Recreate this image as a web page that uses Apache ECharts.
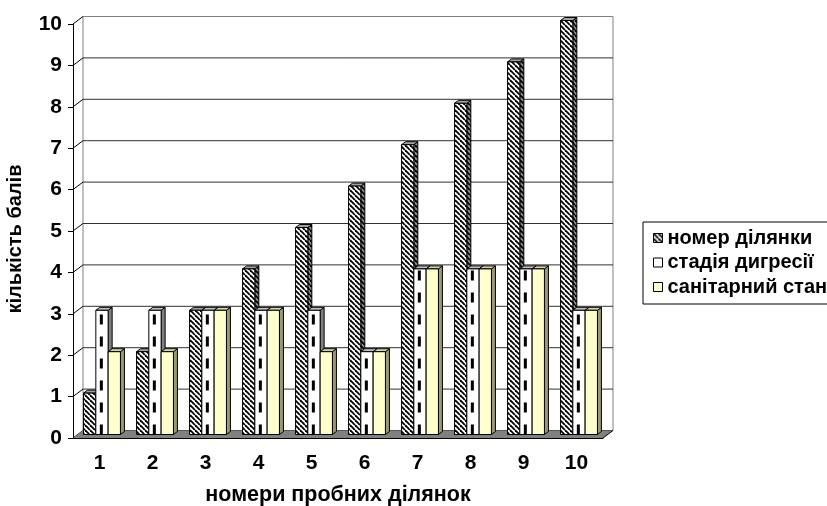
<!DOCTYPE html>
<html>
<head>
<meta charset="utf-8">
<script src="https://cdn.jsdelivr.net/npm/echarts@6/dist/echarts.min.js"></script>
<style>
    html, body {margin: 0; padding: 0; background: #fff;}
    #chart {width: 827px; height: 506px;}
</style>
</head>
<body>
<div id="chart"></div>
<script>
const categories = ['1', '2', '3', '4', '5', '6', '7', '8', '9', '10'];
const plotNumber = [1, 2, 3, 4, 5, 6, 7, 8, 9, 10];
const digressionStage = [3, 3, 3, 3, 3, 2, 4, 4, 4, 3];
const sanitaryState = [2, 2, 3, 3, 2, 2, 4, 4, 4, 3];
const yTicks = [0, 1, 2, 3, 4, 5, 6, 7, 8, 9, 10];

const FONT = "'Liberation Sans', Arial, sans-serif";
// depth of the back wall and of the bars (pseudo 3d)
const DX = 10, DY = -7.5;
const BY = -3.5;
const SX = 4, SY = -3;

function hatch(bg, fg, size) {
    let c = document.createElement('canvas');
    c.width = c.height = size;
    let g = c.getContext('2d');
    g.fillStyle = bg;
    g.fillRect(0, 0, size, size);
    g.strokeStyle = fg;
    g.lineWidth = 1.8;
    [-size, 0, size].forEach(o => {
        g.beginPath();
        g.moveTo(o, 0);
        g.lineTo(o + size, size);
        g.stroke();
    });
    return {image: c, repeat: 'repeat'};
}

const hatchFront = hatch('#ffffff', '#000000', 5);
const hatchSide = hatch('#909090', '#000000', 5);

const looks = [
    {front: hatchFront, side: hatchSide, top: '#a0a0a0', dash: false},
    {front: '#ffffff', side: '#808080', top: '#c0c0c0', dash: true},
    {front: '#ffffcc', side: '#9a9a70', top: '#d6d6a8', dash: false}
];

function barRenderer(k) {
    return function (params, api) {
        let ci = api.value(0), v = api.value(1);
        let p0 = api.coord([ci, 0]);
        let p1 = api.coord([ci, v]);
        let cw = api.size([1, 0])[0];
        let bw = cw * 0.232;
        let x = p0[0] - 1.5 * bw + k * bw + cw * 0.047;
        let yb = p0[1] + BY, yt = p1[1] + BY;
        let look = looks[k];
        let stroke = {stroke: '#000', lineWidth: 1};
        let children = [
            {
                type: 'polygon',
                shape: {points: [[x + bw, yt], [x + bw + SX, yt + SY], [x + bw + SX, yb + SY], [x + bw, yb]]},
                style: Object.assign({fill: look.side}, stroke)
            },
            {
                type: 'polygon',
                shape: {points: [[x, yt], [x + SX, yt + SY], [x + bw + SX, yt + SY], [x + bw, yt]]},
                style: Object.assign({fill: look.top}, stroke)
            },
            {
                type: 'rect',
                shape: {x: x, y: yt, width: bw, height: yb - yt},
                style: Object.assign({fill: look.front}, stroke)
            }
        ];
        if (look.dash) {
            children.push({
                type: 'line',
                shape: {x1: x + 5.5, y1: yb, x2: x + 5.5, y2: yt + 1},
                style: {stroke: '#000', lineWidth: 3, lineDash: [10, 12]}
            });
        }
        return {type: 'group', children: children};
    };
}

function frameRenderer(params, api) {
    let cs = params.coordSys;
    let v = api.value(1);
    let y = api.coord([0, v])[1];
    let left = cs.x, right = cs.x + cs.width;
    let children = [
        {
            type: 'line',
            shape: {x1: left + DX, y1: y + DY, x2: right + DX, y2: y + DY},
            style: {stroke: v === yTicks[yTicks.length - 1] ? '#808080' : '#303030', lineWidth: 1}
        },
        {
            type: 'line',
            shape: {x1: left, y1: y, x2: left + DX, y2: y + DY},
            style: {stroke: '#000', lineWidth: 1}
        }
    ];
    if (v === 0) {
        let yTop = api.coord([0, yTicks[yTicks.length - 1]])[1];
        children.push(
            {
                type: 'line',
                shape: {x1: left + DX, y1: yTop + DY, x2: left + DX, y2: y + DY},
                style: {stroke: '#808080', lineWidth: 1}
            },
            {
                type: 'line',
                shape: {x1: right + DX, y1: yTop + DY, x2: right + DX, y2: y + DY},
                style: {stroke: '#808080', lineWidth: 1}
            },
            {
                type: 'polygon',
                shape: {points: [[left, y], [left + DX, y + DY], [right + DX, y + DY], [right, y]]},
                style: {fill: '#808080', stroke: null}
            },
            {
                type: 'line',
                shape: {x1: right, y1: y, x2: right + DX, y2: y + DY},
                style: {stroke: '#000', lineWidth: 1}
            }
        );
    }
    return {type: 'group', children: children};
}

const names = ['номер ділянки', 'стадія дигресії', 'санітарний стан'];
const values = [plotNumber, digressionStage, sanitaryState];

let series = [{
    name: 'frame',
    type: 'custom',
    z: 1,
    silent: true,
    renderItem: frameRenderer,
    encode: {x: 0, y: 1},
    data: yTicks.map(v => [0, v])
}];
values.forEach((arr, k) => {
    series.push({
        name: names[k],
        type: 'custom',
        z: 2 + k,
        renderItem: barRenderer(k),
        encode: {x: 0, y: 1},
        itemStyle: {color: looks[k].front},
        data: arr.map((v, i) => [i, v])
    });
});

let option = {
    animation: false,
    textStyle: {fontFamily: FONT},
    grid: {left: 73, right: 224, top: 24, bottom: 68, outerBoundsMode: 'none'},
    legend: {
        orient: 'vertical',
        left: 643,
        top: 222,
        padding: [6, 6, 7, 10],
        borderColor: '#000',
        borderWidth: 1,
        itemWidth: 9,
        itemHeight: 9,
        itemGap: 4.5,
        icon: 'rect',
        textStyle: {fontFamily: FONT, fontWeight: 'bold', fontSize: 20, color: '#000', lineHeight: 20},
        data: names.map((n, k) => ({
            name: n,
            itemStyle: {color: looks[k].front, borderColor: '#000', borderWidth: 1}
        }))
    },
    xAxis: {
        type: 'category',
        data: categories,
        name: 'номери пробних ділянок',
        nameLocation: 'middle',
        nameGap: 46,
        nameTextStyle: {fontFamily: FONT, fontWeight: 'bold', fontSize: 21.5, color: '#000'},
        axisLine: {lineStyle: {color: '#000', width: 1}},
        axisTick: {length: 7, lineStyle: {color: '#000'}},
        axisLabel: {fontFamily: FONT, fontWeight: 'bold', fontSize: 21, color: '#000', margin: 15},
        splitLine: {show: false}
    },
    yAxis: {
        type: 'value',
        min: 0,
        max: 10,
        interval: 1,
        name: 'кількість балів',
        nameLocation: 'middle',
        nameRotate: 90,
        nameGap: 48,
        nameTextStyle: {fontFamily: FONT, fontWeight: 'bold', fontSize: 20, color: '#000', padding: [0, 16, 0, 0]},
        axisLine: {show: true, lineStyle: {color: '#000', width: 1}},
        axisTick: {show: true, length: 5, lineStyle: {color: '#000'}},
        axisLabel: {fontFamily: FONT, fontWeight: 'bold', fontSize: 21, color: '#000', margin: 11},
        splitLine: {show: false}
    },
    series: series
};

echarts.init(document.getElementById('chart')).setOption(option);
</script>
</body>
</html>
